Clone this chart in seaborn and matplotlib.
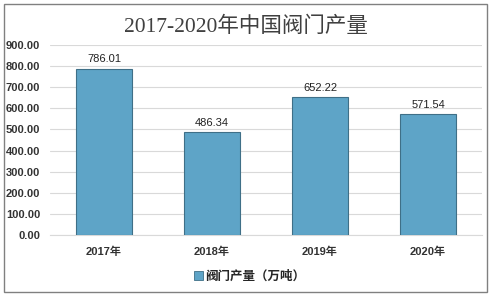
import matplotlib
matplotlib.use("Agg")
import matplotlib.pyplot as plt
import seaborn as sns
import pandas as pd
from matplotlib.patches import Rectangle, Patch

years = ["2017年", "2018年", "2019年", "2020年"]
values = [786.01, 486.34, 652.22, 571.54]
series_name = "阀门产量（万吨）"
title = "2017-2020年中国阀门产量"
yticks = [0, 100, 200, 300, 400, 500, 600, 700, 800, 900]

sns.set_theme(style="white")
plt.rcParams['font.family'] = ['Liberation Sans', 'Noto Sans CJK SC', 'DejaVu Sans']

df = pd.DataFrame({"year": years, "value": values})

fig = plt.figure(figsize=(4.91, 2.96), dpi=100)
ax = fig.add_axes([50/491, 1-235/296, (482-50)/491, (235-45)/296])

bar_color = "#5ea4c7"
sns.barplot(data=df, x="year", y="value", ax=ax, color=bar_color,
            width=0.51, edgecolor="#3f6f87", linewidth=0.8, saturation=1, zorder=3)

ax.set_ylim(0, 900)
ax.set_yticks(yticks)
ax.set_yticklabels([f"{v:.2f}" for v in yticks], fontsize=8, color="#333333",
                   fontweight="bold")
ax.tick_params(axis="y", length=0, pad=7)
ax.tick_params(axis="x", length=0, pad=8)
for lbl in ax.get_xticklabels():
    lbl.set_fontsize(8)
    lbl.set_color("#333333")
    lbl.set_fontweight("bold")
ax.set_xlabel("")
ax.set_ylabel("")
ax.grid(axis="y", color="#d9d9d9", linewidth=0.8, zorder=0)
ax.set_axisbelow(True)
for s in ["top", "right", "left"]:
    ax.spines[s].set_visible(False)
ax.spines["bottom"].set_color("#d9d9d9")
ax.spines["bottom"].set_linewidth(0.8)

for i, v in enumerate(values):
    ax.text(i, v + 22, f"{v:.2f}", ha="center", va="bottom", fontsize=8,
            color="#222222")

fig.text(0.5, 1-27/296, title, ha="center", va="center", fontsize=15.5,
         color="#404040", family=["Liberation Serif", "Noto Sans CJK SC"])

handle = Patch(facecolor=bar_color, edgecolor="#3f6f87", linewidth=0.6)
fig.legend([handle], [series_name], loc="center", bbox_to_anchor=(250/491, 1-276/296),
           frameon=False, handlelength=0.7, handleheight=0.7,
           handletextpad=0.2, prop={"weight": "bold", "size": 9,
                                    "family": ["Noto Sans CJK SC", "DejaVu Sans"]})

fig.patches.append(Rectangle((4/491, 1-292/296), 483/491, 288/296,
                             transform=fig.transFigure, fill=False,
                             edgecolor="#808080", linewidth=1.0))

fig.savefig("out.png", dpi=100)
